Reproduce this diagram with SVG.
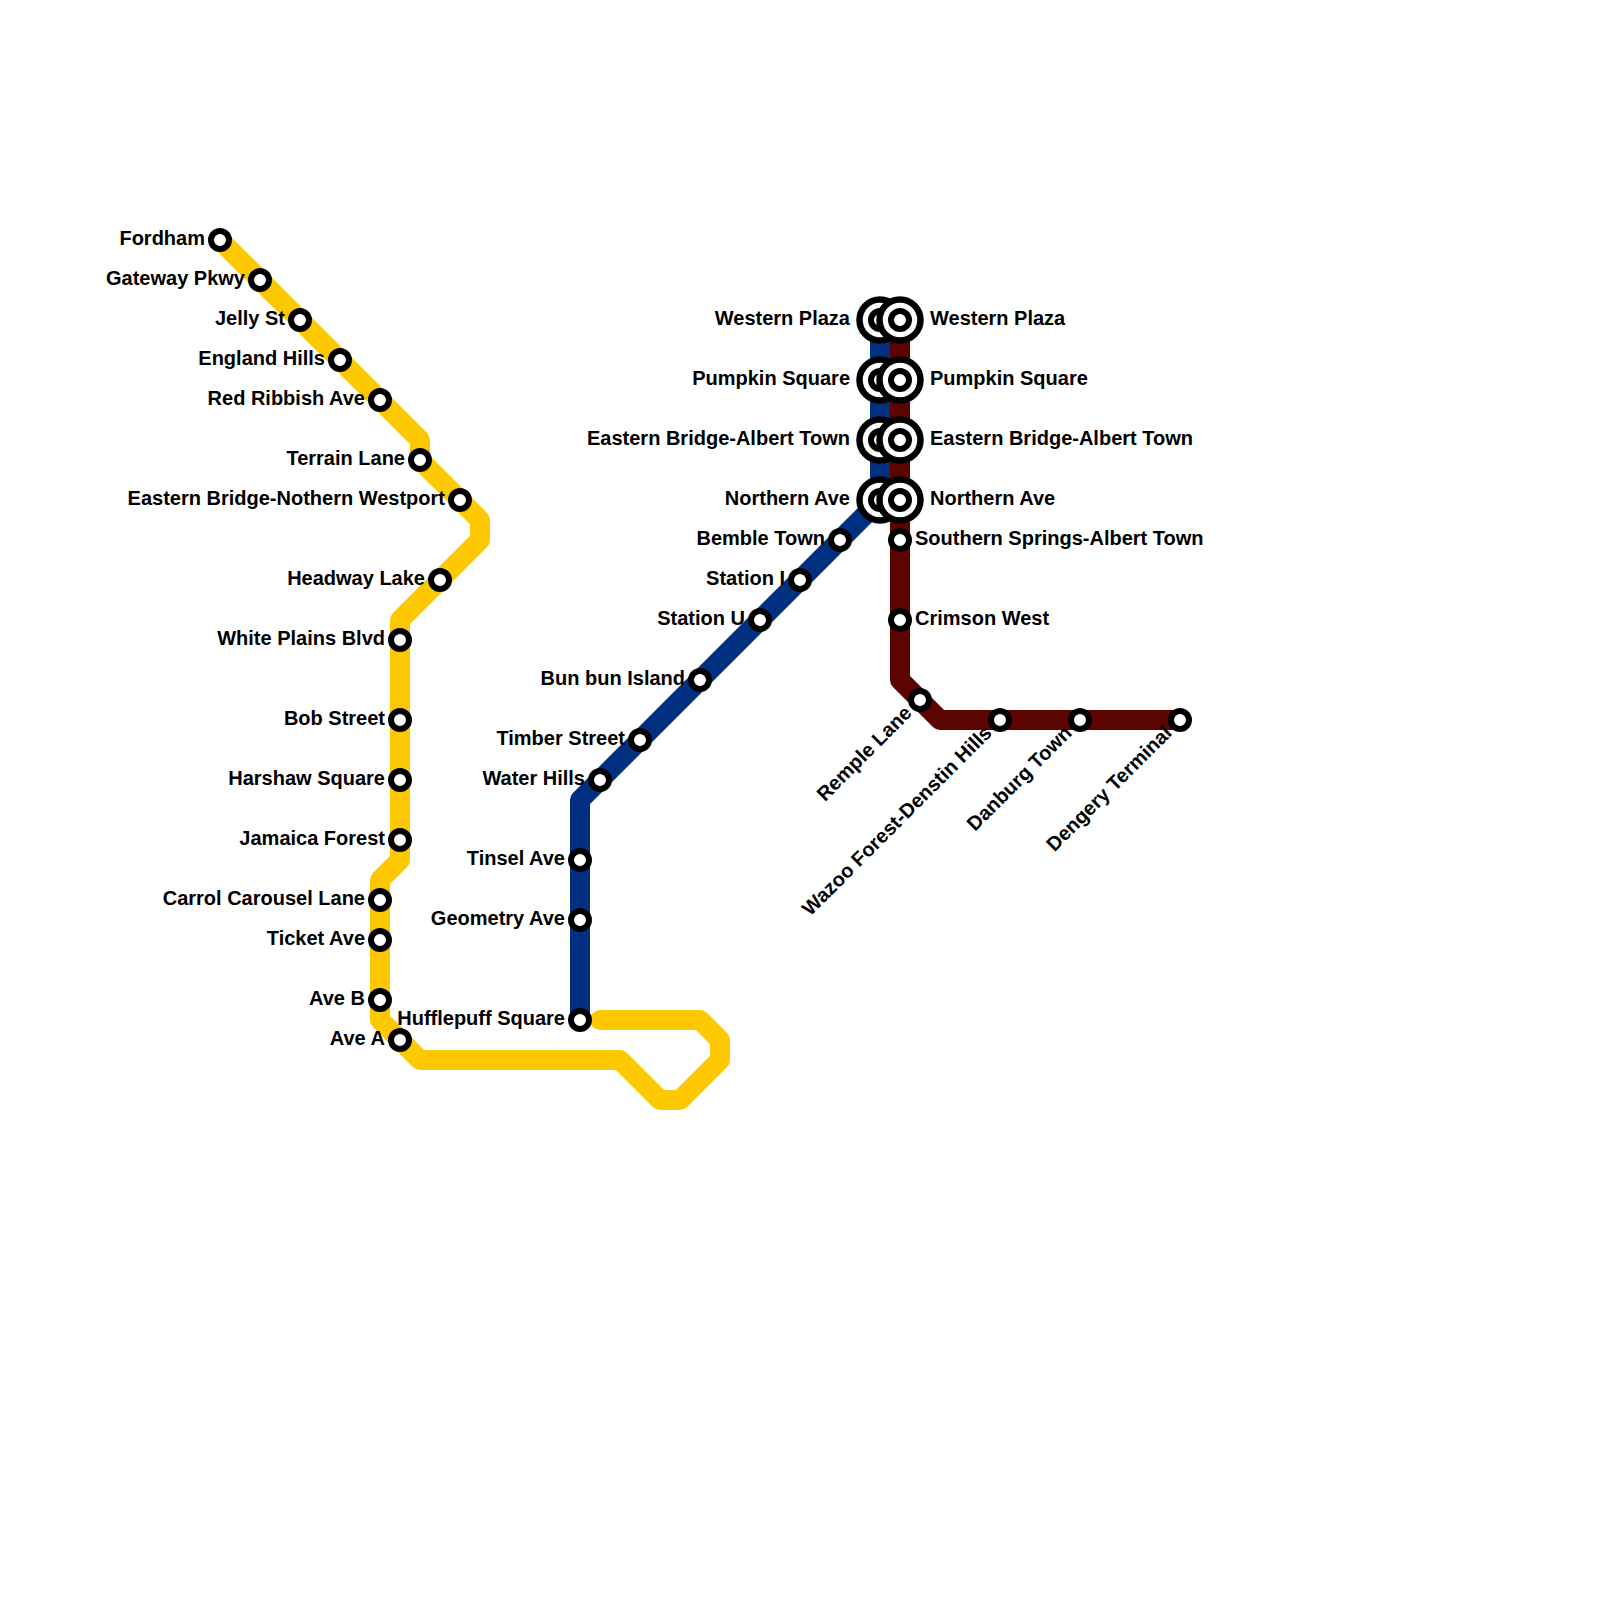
<svg xmlns="http://www.w3.org/2000/svg" width="1600" height="1600" viewBox="0 0 1600 1600">
<style>
.ln{fill:none;stroke-width:20;stroke-linejoin:round;stroke-linecap:round}
.st{fill:#fff;stroke:#000;stroke-width:6}
.ix{fill:#fff;stroke:#000;stroke-width:6.5}
text{font-family:"Liberation Sans",Arial,sans-serif;font-weight:700;font-size:20px;fill:#000}
.l{text-anchor:end}
</style>
<rect width="1600" height="1600" fill="#fff"/>
<g id="connectors">
<path class="ln" stroke="#fdc800" d="M220 240L420 440V460L480 520V540L400 620V860L380 880V1020L420 1060H620L660 1100H680L720 1060V1040L700 1020H600"/>
<path class="ln" stroke="#00307f" d="M580 1020V800L880 500V320"/>
<path class="ln" stroke="#5c0500" d="M900 320V680L940 720H1180"/>
</g>
<g id="n1"><circle class="st" cx="220" cy="240" r="9"/><text class="l" x="205" y="245">Fordham</text></g>
<g id="n2"><circle class="st" cx="260" cy="280" r="9"/><text class="l" x="245" y="285">Gateway Pkwy</text></g>
<g id="n3"><circle class="st" cx="300" cy="320" r="9"/><text class="l" x="285" y="325">Jelly St</text></g>
<g id="n4"><circle class="st" cx="340" cy="360" r="9"/><text class="l" x="325" y="365">England Hills</text></g>
<g id="n5"><circle class="st" cx="380" cy="400" r="9"/><text class="l" x="365" y="405">Red Ribbish Ave</text></g>
<g id="n6"><circle class="st" cx="420" cy="460" r="9"/><text class="l" x="405" y="465">Terrain Lane</text></g>
<g id="n7"><circle class="st" cx="460" cy="500" r="9"/><text class="l" x="445" y="505">Eastern Bridge-Nothern Westport</text></g>
<g id="n8"><circle class="st" cx="440" cy="580" r="9"/><text class="l" x="425" y="585">Headway Lake</text></g>
<g id="n9"><circle class="st" cx="400" cy="640" r="9"/><text class="l" x="385" y="645">White Plains Blvd</text></g>
<g id="n10"><circle class="st" cx="400" cy="720" r="9"/><text class="l" x="385" y="725">Bob Street</text></g>
<g id="n11"><circle class="st" cx="400" cy="780" r="9"/><text class="l" x="385" y="785">Harshaw Square</text></g>
<g id="n12"><circle class="st" cx="400" cy="840" r="9"/><text class="l" x="385" y="845">Jamaica Forest</text></g>
<g id="n13"><circle class="st" cx="380" cy="900" r="9"/><text class="l" x="365" y="905">Carrol Carousel Lane</text></g>
<g id="n14"><circle class="st" cx="380" cy="940" r="9"/><text class="l" x="365" y="945">Ticket Ave</text></g>
<g id="n15"><circle class="st" cx="380" cy="1000" r="9"/><text class="l" x="365" y="1005">Ave B</text></g>
<g id="n16"><circle class="st" cx="400" cy="1040" r="9"/><text class="l" x="385" y="1045">Ave A</text></g>
<g id="b1"><circle class="st" cx="580" cy="1020" r="9"/><text class="l" x="565" y="1025">Hufflepuff Square</text></g>
<g id="b2"><circle class="st" cx="580" cy="920" r="9"/><text class="l" x="565" y="925">Geometry Ave</text></g>
<g id="b3"><circle class="st" cx="580" cy="860" r="9"/><text class="l" x="565" y="865">Tinsel Ave</text></g>
<g id="b4"><circle class="st" cx="600" cy="780" r="9"/><text class="l" x="585" y="785">Water Hills</text></g>
<g id="b5"><circle class="st" cx="640" cy="740" r="9"/><text class="l" x="625" y="745">Timber Street</text></g>
<g id="b6"><circle class="st" cx="700" cy="680" r="9"/><text class="l" x="685" y="685">Bun bun Island</text></g>
<g id="b7"><circle class="st" cx="760" cy="620" r="9"/><text class="l" x="745" y="625">Station U</text></g>
<g id="b8"><circle class="st" cx="800" cy="580" r="9"/><text class="l" x="785" y="585">Station I</text></g>
<g id="b9"><circle class="st" cx="840" cy="540" r="9"/><text class="l" x="825" y="545">Bemble Town</text></g>
<g id="b10"><circle class="ix" cx="880" cy="500" r="20.5"/><circle class="st" cx="880" cy="500" r="9"/><text class="l" x="850" y="505">Northern Ave</text></g>
<g id="b11"><circle class="ix" cx="880" cy="440" r="20.5"/><circle class="st" cx="880" cy="440" r="9"/><text class="l" x="850" y="445">Eastern Bridge-Albert Town</text></g>
<g id="b12"><circle class="ix" cx="880" cy="380" r="20.5"/><circle class="st" cx="880" cy="380" r="9"/><text class="l" x="850" y="385">Pumpkin Square</text></g>
<g id="b13"><circle class="ix" cx="880" cy="320" r="20.5"/><circle class="st" cx="880" cy="320" r="9"/><text class="l" x="850" y="325">Western Plaza</text></g>
<g id="r1"><circle class="ix" cx="900" cy="320" r="20.5"/><circle class="st" cx="900" cy="320" r="9"/><text x="930" y="325">Western Plaza</text></g>
<g id="r2"><circle class="ix" cx="900" cy="380" r="20.5"/><circle class="st" cx="900" cy="380" r="9"/><text x="930" y="385">Pumpkin Square</text></g>
<g id="r3"><circle class="ix" cx="900" cy="440" r="20.5"/><circle class="st" cx="900" cy="440" r="9"/><text x="930" y="445">Eastern Bridge-Albert Town</text></g>
<g id="r4"><circle class="ix" cx="900" cy="500" r="20.5"/><circle class="st" cx="900" cy="500" r="9"/><text x="930" y="505">Northern Ave</text></g>
<g id="r5"><circle class="st" cx="900" cy="540" r="9"/><text x="915" y="545">Southern Springs-Albert Town</text></g>
<g id="r6"><circle class="st" cx="900" cy="620" r="9"/><text x="915" y="625">Crimson West</text></g>
<g id="r7"><circle class="st" cx="920" cy="700" r="9"/><text class="l" transform="translate(920 700) rotate(-45)" x="-15" y="5">Remple Lane</text></g>
<g id="r8"><circle class="st" cx="1000" cy="720" r="9"/><text class="l" transform="translate(1000 720) rotate(-45)" x="-15" y="5">Wazoo Forest-Denstin Hills</text></g>
<g id="r9"><circle class="st" cx="1080" cy="720" r="9"/><text class="l" transform="translate(1080 720) rotate(-45)" x="-15" y="5">Danburg Town</text></g>
<g id="r10"><circle class="st" cx="1180" cy="720" r="9"/><text class="l" transform="translate(1180 720) rotate(-45)" x="-15" y="5">Dengery Terminal</text></g>
</svg>
